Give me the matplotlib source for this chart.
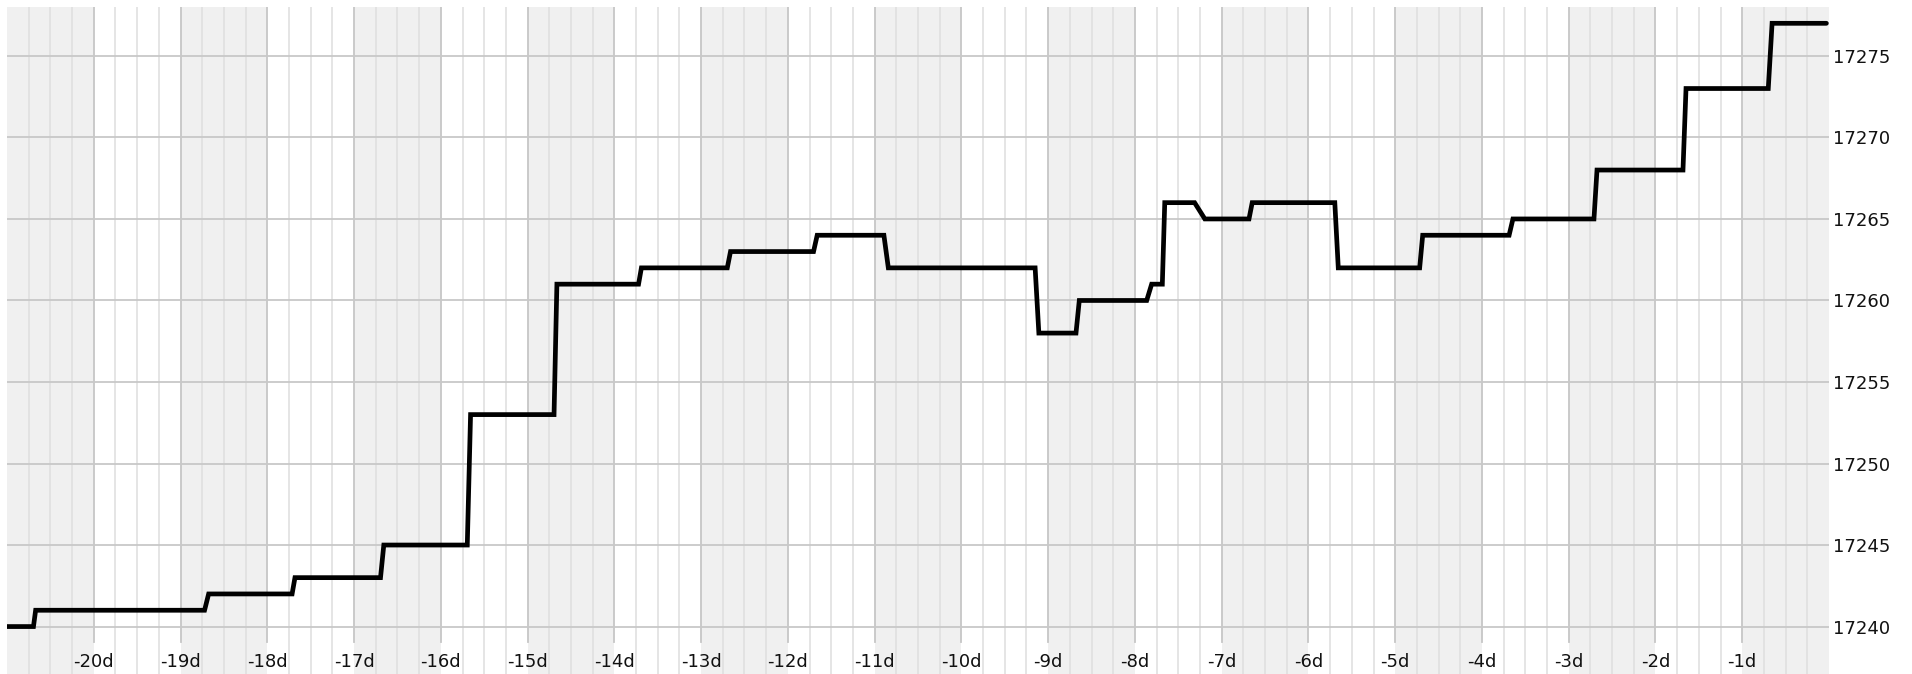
import matplotlib
matplotlib.use("Agg")
import matplotlib.pyplot as plt
import numpy as np

# plateaus of the series: start day, end day, level
step_start = [-21.0, -20.67, -18.676, -17.681, -16.657, -15.657, -14.662, -13.688,
              -12.661, -11.662, -10.842, -9.107, -8.641, -7.807, -7.656, -7.194,
              -6.648, -5.656, -4.683, -3.643, -2.674, -1.648, -0.656]
step_end = [-20.695, -18.723, -17.714, -16.695, -15.695, -14.695, -13.721, -12.698,
            -11.704, -10.893, -9.15, -8.679, -7.864, -7.684, -7.312, -6.685,
            -5.696, -4.718, -3.687, -2.709, -1.683, -0.7, -0.03]
level = [17240, 17241, 17242, 17243, 17245, 17253, 17261, 17262,
         17263, 17264, 17262, 17258, 17260, 17261, 17266, 17265,
         17266, 17262, 17264, 17265, 17268, 17273, 17277]

day_ticks = list(range(-20, 0))
day_labels = ["%dd" % d for d in day_ticks]
y_ticks = [17240, 17245, 17250, 17255, 17260, 17265, 17270, 17275]

x = []
y = []
for s, e, v in zip(step_start, step_end, level):
    x += [s, e]
    y += [v, v]

W, H = 1912, 674
fig = plt.figure(figsize=(W / 100, H / 100), dpi=100)
ax = fig.add_axes([7 / W, 0, (1829 - 7) / W, (H - 7) / H])

ylo, yhi = 17237.09, 17278.0
ax.set_xlim(-21, 0)
ax.set_ylim(ylo, yhi)

# shaded days
for d in range(-21, 0, 2):
    ax.axvspan(d, d + 1, color="#f0f0f0", lw=0, zorder=0)

# minor 6h lines
for h in np.arange(-21, 0, 0.25):
    if abs(h - round(h)) > 1e-6:
        ax.axvline(h, color="#dedede", lw=1.1, zorder=1)

# major day lines stop short of the labels
ymin_frac = (17239.05 - ylo) / (yhi - ylo)
for d in day_ticks:
    ax.axvline(d, ymin=ymin_frac, color="#c6c6c6", lw=1.3, zorder=1)

for v in y_ticks:
    ax.axhline(v, color="#c8c8c8", lw=1.3, zorder=1)

ax.plot(x, y, color="black", lw=3.4, solid_capstyle="round",
        solid_joinstyle="miter", zorder=3)

for d, lab in zip(day_ticks, day_labels):
    ax.text(d, 7 / (H - 7), lab, transform=ax.get_xaxis_transform(),
            ha="center", va="baseline", fontsize=13, color="#111111", zorder=4)

ax.set_xticks([])
ax.yaxis.tick_right()
ax.set_yticks(y_ticks)
ax.set_yticklabels([str(v) for v in y_ticks], fontsize=13, color="#111111")
ax.tick_params(axis="y", length=0, pad=3)
for sp in ax.spines.values():
    sp.set_visible(False)

fig.savefig("out.png", dpi=100)
